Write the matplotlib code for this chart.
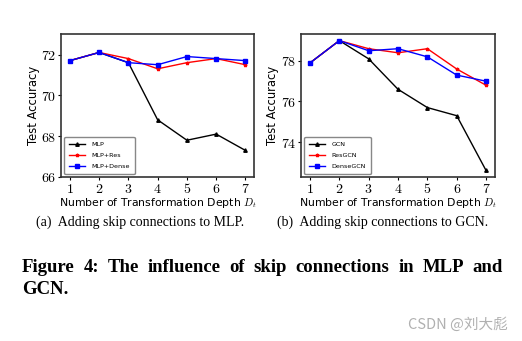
import matplotlib.pyplot as plt
from matplotlib.ticker import FuncFormatter

plt.rcParams['mathtext.fontset'] = 'cm'

# transformation depth on the x axis
depth = [1, 2, 3, 4, 5, 6, 7]

# test accuracy of MLP variants
mlp = [71.7, 72.1, 71.6, 68.8, 67.8, 68.1, 67.3]
mlp_res = [71.7, 72.1, 71.8, 71.3, 71.6, 71.8, 71.5]
mlp_dense = [71.7, 72.1, 71.6, 71.5, 71.9, 71.8, 71.7]

# test accuracy of GCN variants
gcn = [77.9, 79.0, 78.1, 76.6, 75.7, 75.3, 72.6]
res_gcn = [77.9, 79.0, 78.6, 78.4, 78.6, 77.6, 76.8]
dense_gcn = [77.9, 79.0, 78.5, 78.6, 78.2, 77.3, 77.0]

fig = plt.figure(figsize=(5.22, 3.41), dpi=100)
ax1 = fig.add_axes([0.117, 0.481, 0.370, 0.419])
ax2 = fig.add_axes([0.577, 0.481, 0.371, 0.419])

cm_fmt = FuncFormatter(lambda v, p: '$%d$' % v)

def draw(ax, series, names, yticks, ylim=None):
    styles = [('k', '^'), ('r', '*'), ('b', 's')]
    for vals, name, (c, m) in zip(series, names, styles):
        ax.plot(depth, vals, color=c, marker=m, markersize=2.5, linewidth=1, label=name)
    if ylim is not None:
        ax.set_ylim(*ylim)
    ax.set_xticks(depth)
    ax.set_yticks(yticks)
    ax.xaxis.set_major_formatter(cm_fmt)
    ax.yaxis.set_major_formatter(cm_fmt)
    ax.tick_params(labelsize=10, length=2.5, width=0.8, pad=1)
    for s in ax.spines.values():
        s.set_linewidth(1.2)
        s.set_color('#333333')
    ax.set_ylabel('Test Accuracy', fontsize=8.3, labelpad=1)
    ax.set_xlabel('Number of Transformation Depth $D_t$', fontsize=7.8, labelpad=0)
    ax.legend(loc='lower left', fontsize=4.6, handlelength=2.6, borderpad=0.7,
              labelspacing=0.9, handletextpad=1.0, framealpha=1, edgecolor='#888888')

draw(ax1, [mlp, mlp_res, mlp_dense], ['MLP', 'MLP+Res', 'MLP+Dense'],
     [66, 68, 70, 72], ylim=(66, 73))
draw(ax2, [gcn, res_gcn, dense_gcn], ['GCN', 'ResGCN', 'DenseGCN'],
     [74, 76, 78])

serif = 'Liberation Serif'
fig.text(0.268, 0.347, '(a)  Adding skip connections to MLP.', ha='center', va='center',
         fontsize=10, family=serif)
fig.text(0.733, 0.347, '(b)  Adding skip connections to GCN.', ha='center', va='center',
         fontsize=10, family=serif)

# justified bold caption: spread the words between the margins
def justify(words, x0, x1, y, **kw):
    r = fig.canvas.get_renderer()
    texts = [fig.text(0, y, w, ha='left', va='center', **kw) for w in words]
    widths = [t.get_window_extent(r).width / fig.bbox.width for t in texts]
    gap = (x1 - x0 - sum(widths)) / (len(words) - 1)
    x = x0
    for t, w in zip(texts, widths):
        t.set_x(x)
        x += w + gap

cap_kw = dict(fontsize=13.5, fontweight='bold', family=serif)
justify('Figure 4: The influence of skip connections in MLP and'.split(),
        0.042, 0.964, 0.215, **cap_kw)
fig.text(0.042, 0.152, 'GCN.', ha='left', va='center', **cap_kw)

fig.text(0.972, 0.047, 'CSDN @刘大彪', ha='right', va='center', fontsize=10.5,
         color='#b0b0b0', family=['Noto Sans CJK SC', 'DejaVu Sans'])

fig.savefig('out.png', dpi=100)
